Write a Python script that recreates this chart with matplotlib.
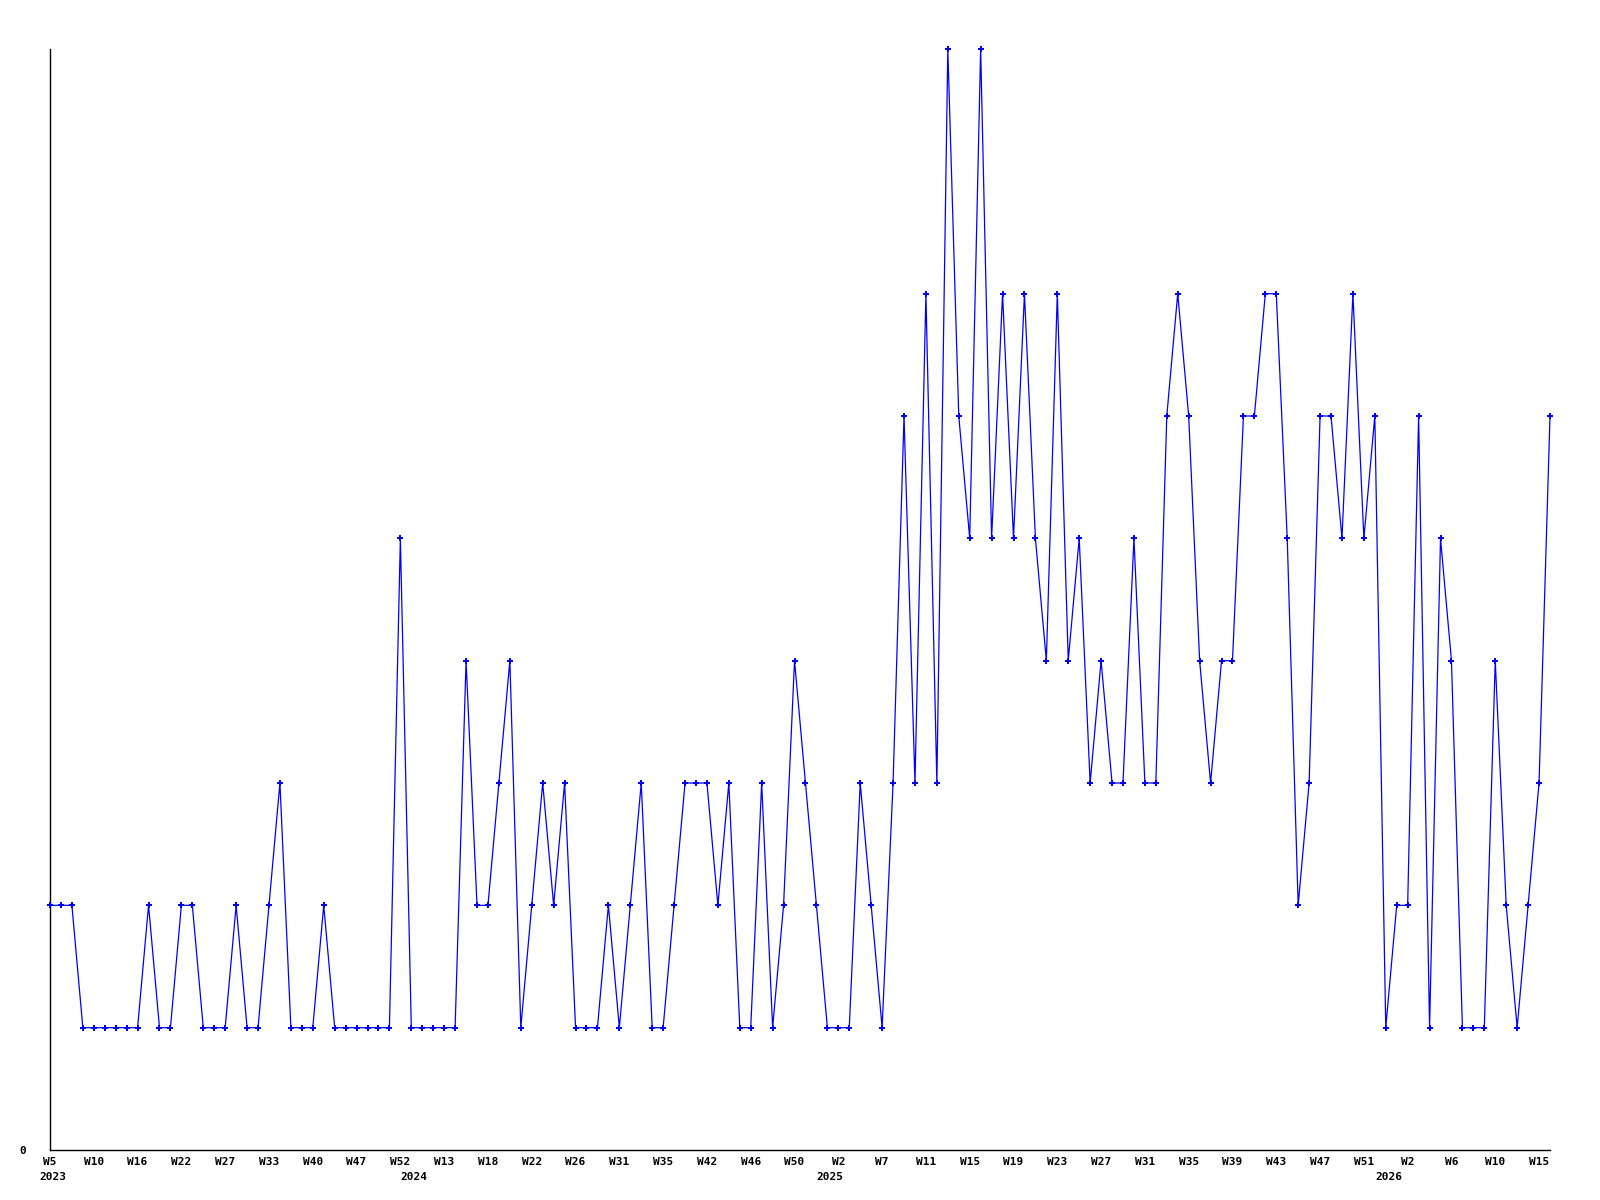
import matplotlib
matplotlib.use("Agg")
import matplotlib.pyplot as plt
import matplotlib.transforms as mtransforms

# Weekly counts (one point per week that has data)
values = [
    2, 2, 2, 1, 1, 1, 1, 1, 1, 2,
    1, 1, 2, 2, 1, 1, 1, 2, 1, 1,
    2, 3, 1, 1, 1, 2, 1, 1, 1, 1,
    1, 1, 5, 1, 1, 1, 1, 1, 4, 2,
    2, 3, 4, 1, 2, 3, 2, 3, 1, 1,
    1, 2, 1, 2, 3, 1, 1, 2, 3, 3,
    3, 2, 3, 1, 1, 3, 1, 2, 4, 3,
    2, 1, 1, 1, 3, 2, 1, 3, 6, 3,
    7, 3, 9, 6, 5, 9, 5, 7, 5, 7,
    5, 4, 7, 4, 5, 3, 4, 3, 3, 5,
    3, 3, 6, 7, 6, 4, 3, 4, 4, 6,
    6, 7, 7, 5, 2, 3, 6, 6, 5, 7,
    5, 6, 1, 2, 2, 6, 1, 5, 4, 1,
    1, 1, 4, 2, 1, 2, 3, 6,
]

# Week labels shown on every 4th point
tick_labels = [
    "W5", "W10", "W16", "W22", "W27", "W33", "W40", "W47", "W52",
    "W13", "W18", "W22", "W26", "W31", "W35", "W42", "W46", "W50",
    "W2", "W7", "W11", "W15", "W19", "W23", "W27", "W31", "W35",
    "W39", "W43", "W47", "W51", "W2", "W6", "W10", "W15",
]
tick_step = 4

# Year labels and the point at which each year starts
years = ["2023", "2024", "2025", "2026"]
year_start_points = [0, 33, 71, 122]

FONT = dict(family="DejaVu Sans Mono", weight="bold", size=8)

fig = plt.figure(figsize=(16, 12), dpi=100)
ax = fig.add_axes([50 / 1600, 50 / 1200, 1500 / 1600, 1101 / 1200])

x = list(range(len(values)))
ax.plot(x, values, color="#0000ff", linewidth=0.9,
        marker="P", markersize=4.5, markeredgewidth=0,
        markerfacecolor="#0000ff", clip_on=False, zorder=3)

ax.set_xlim(0, len(values) - 1)
ax.set_ylim(0, max(values))

for side in ("top", "right"):
    ax.spines[side].set_visible(False)
for side in ("left", "bottom"):
    ax.spines[side].set_color("black")
    ax.spines[side].set_linewidth(1.0)

ax.set_yticks([0])
ax.set_yticklabels(["0"], fontdict=FONT)
ax.tick_params(axis="y", length=0, pad=17)

ticks = list(range(0, len(values), tick_step))[:len(tick_labels)]
ax.set_xticks(ticks)
ax.set_xticklabels(tick_labels, fontdict=FONT)
ax.tick_params(axis="x", length=0, pad=5)

trans = mtransforms.blended_transform_factory(ax.transData, ax.transAxes)
offset = mtransforms.ScaledTranslation(3 / 100, -27 / 100, fig.dpi_scale_trans)
for yr, pos in zip(years, year_start_points):
    ax.text(pos, 0, yr, transform=trans + offset, ha="center", va="center",
            **FONT)

fig.savefig("out.png", dpi=100)
